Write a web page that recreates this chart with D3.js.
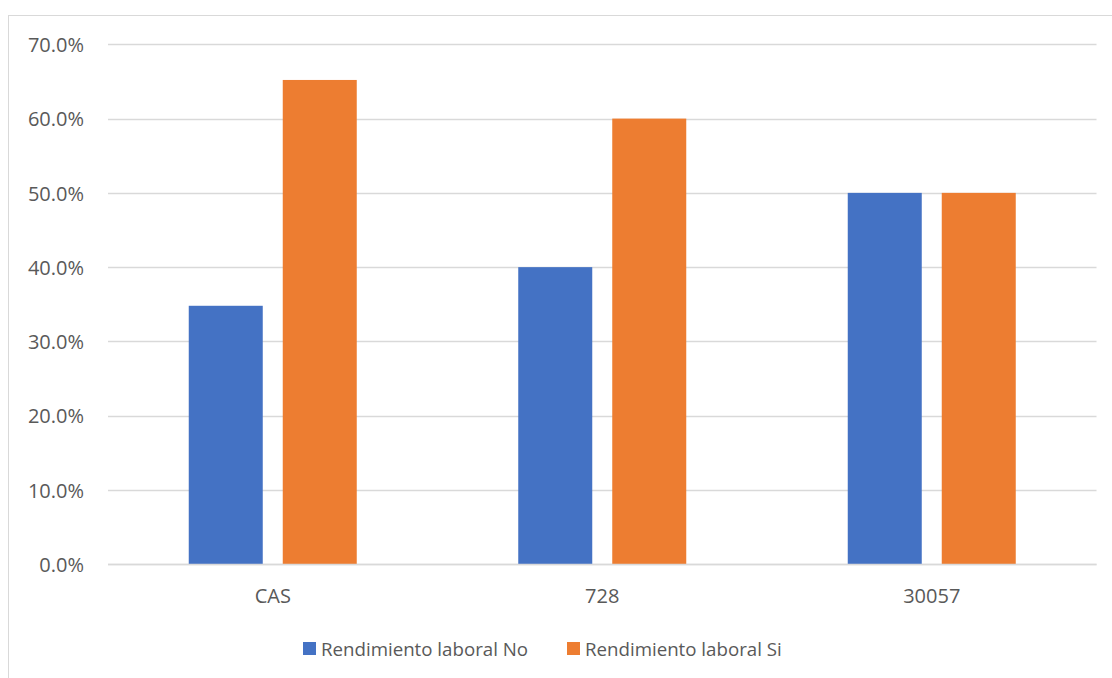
<!DOCTYPE html>
<html>
<head>
<meta charset="utf-8">
<script src="https://cdn.jsdelivr.net/npm/d3@7"></script>
<style>
  html, body { margin: 0; padding: 0; background: #fff; }
  svg { display: block; font-family: "Open Sans", "Noto Sans", sans-serif; }
</style>
</head>
<body>
<svg id="chart" width="1112" height="678"></svg>
<script>
// Chart data
const categories = ["CAS", "728", "30057"];
const seriesNames = ["Rendimiento laboral No", "Rendimiento laboral Si"];
const valuesNo = [0.348, 0.40, 0.50];
const valuesSi = [0.652, 0.60, 0.50];
const yTicks = [0, 0.1, 0.2, 0.3, 0.4, 0.5, 0.6, 0.7];
const colors = ["#4472C4", "#ED7D31"];

const svg = d3.select("#chart");
const W = 1112, H = 678;
const textColor = "#595959";

// Outer chart frame
svg.append("rect")
  .attr("x", 8.5).attr("y", 15.5)
  .attr("width", W + 10).attr("height", H + 10)
  .attr("fill", "none").attr("stroke", "#d9d9d9").attr("stroke-width", 1);

const plot = { left: 108, right: 1096.5, top: 44.3, bottom: 564.3 };

const x = d3.scaleBand().domain(categories).range([plot.left, plot.right]);
const y = d3.scaleLinear().domain([0, 0.7]).range([plot.bottom, plot.top]);
const pct = d3.format(".1%");

// Gridlines
svg.append("g")
  .selectAll("line").data(yTicks).join("line")
  .attr("x1", plot.left).attr("x2", plot.right)
  .attr("y1", d => Math.round(y(d)) + 0.5).attr("y2", d => Math.round(y(d)) + 0.5)
  .attr("stroke", "#d9d9d9").attr("stroke-width", 1.5);

// Y axis labels
const yAxis = d3.axisLeft(y).tickValues(yTicks).tickFormat(pct).tickSize(0).tickPadding(0);
const yg = svg.append("g").attr("transform", `translate(84,0)`).call(yAxis);
yg.select(".domain").remove();
yg.selectAll("text").attr("fill", textColor).attr("font-size", 20)
  .attr("font-family", "Open Sans, sans-serif").attr("dy", "0.36em");

// Bars
const barW = 74, gap = 20;
const series = [valuesNo, valuesSi];
series.forEach((vals, si) => {
  svg.append("g").selectAll("rect").data(categories).join("rect")
    .attr("x", (c) => x(c) + x.bandwidth() / 2 + (si === 0 ? -(gap / 2 + barW) : gap / 2))
    .attr("width", barW)
    .attr("y", (c, i) => y(vals[i]))
    .attr("height", (c, i) => y(0) - y(vals[i]))
    .attr("fill", colors[si]);
});

// Baseline redraw over bars
svg.append("line")
  .attr("x1", plot.left).attr("x2", plot.right)
  .attr("y1", Math.round(y(0)) + 0.5).attr("y2", Math.round(y(0)) + 0.5)
  .attr("stroke", "#d9d9d9").attr("stroke-width", 1.5);

// X axis labels
const xAxis = d3.axisBottom(x).tickSize(0).tickPadding(0);
const xg = svg.append("g").attr("transform", `translate(0,603)`).call(xAxis);
xg.select(".domain").remove();
xg.selectAll("text").attr("fill", textColor).attr("font-size", 20)
  .attr("font-family", "Open Sans, sans-serif").attr("dy", null).attr("y", 0);

// Legend
const legendItems = [
  { name: seriesNames[0], color: colors[0], x: 303 },
  { name: seriesNames[1], color: colors[1], x: 567 }
];
const lg = svg.append("g");
legendItems.forEach(it => {
  lg.append("rect").attr("x", it.x).attr("y", 642).attr("width", 13).attr("height", 13).attr("fill", it.color);
  lg.append("text").attr("x", it.x + 18).attr("y", 656)
    .attr("fill", textColor).attr("font-size", 18.7)
    .text(it.name);
});
</script>
</body>
</html>
